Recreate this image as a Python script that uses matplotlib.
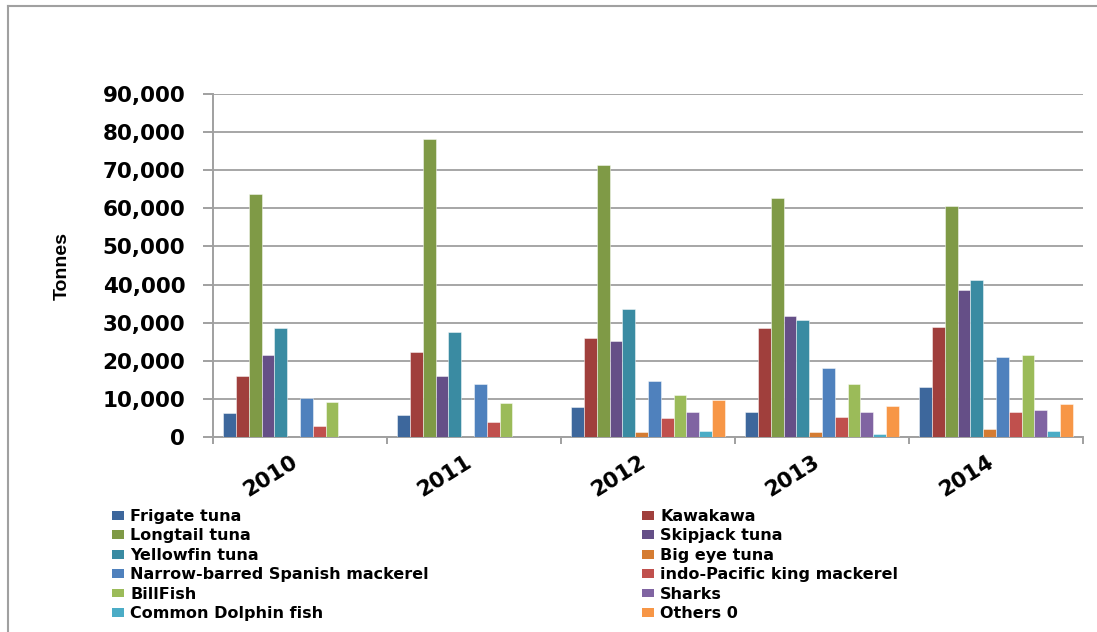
import matplotlib
matplotlib.use('Agg')
import matplotlib.pyplot as plt
import numpy as np
from matplotlib.patches import Patch
from matplotlib.lines import Line2D

years = ['2010', '2011', '2012', '2013', '2014']

series_names = ['Frigate tuna', 'Kawakawa', 'Longtail tuna', 'Skipjack tuna',
                'Yellowfin tuna', 'Big eye tuna', 'Narrow-barred Spanish mackerel',
                'indo-Pacific king mackerel', 'BillFish', 'Sharks',
                'Common Dolphin fish', 'Others 0']

frigate_tuna = [6300, 5900, 7900, 6600, 13200]
kawakawa = [16100, 22300, 26000, 28500, 28800]
longtail_tuna = [63800, 78200, 71300, 62600, 60500]
skipjack_tuna = [21400, 16100, 25200, 31700, 38700]
yellowfin_tuna = [28500, 27600, 33700, 30600, 41200]
big_eye_tuna = [0, 0, 1300, 1300, 2000]
narrow_barred = [10300, 14000, 14800, 18100, 21000]
indo_pacific = [3000, 3900, 5000, 5300, 6600]
billfish = [9100, 8800, 11100, 14000, 21400]
sharks = [0, 0, 6600, 6600, 7000]
common_dolphin = [0, 0, 1700, 900, 1600]
others = [0, 0, 9600, 8200, 8700]

series_values = [frigate_tuna, kawakawa, longtail_tuna, skipjack_tuna,
                 yellowfin_tuna, big_eye_tuna, narrow_barred, indo_pacific,
                 billfish, sharks, common_dolphin, others]

colors = ['#3D679C', '#A03F3C', '#7F9A46', '#654F87', '#3A8BA2', '#D57C32',
          '#4F81BD', '#C0504D', '#9BBB59', '#8064A2', '#4BACC6', '#F79646']

y_ticks = [0, 10000, 20000, 30000, 40000, 50000, 60000, 70000, 80000, 90000]

W, H = 1097, 632
fig = plt.figure(figsize=(W / 100, H / 100), dpi=100)
fig.patch.set_facecolor('white')

# outer frame (left and top border)
fig.add_artist(Line2D([8 / W, 8 / W], [0, 1 - 6 / H], color='#A0A0A0', lw=1.5,
                      transform=fig.transFigure))
fig.add_artist(Line2D([8 / W, 1], [1 - 6 / H, 1 - 6 / H], color='#A0A0A0', lw=1.5,
                      transform=fig.transFigure))

ax = fig.add_axes([213 / W, 1 - 437 / H, (1083 - 213) / W, (437 - 94) / H])

n_groups = len(years)
n_series = len(series_values)
bar_w = 0.0735
total = bar_w * n_series
x0 = np.arange(n_groups)
handles = []
for i, (vals, c, name) in enumerate(zip(series_values, colors, series_names)):
    xs = x0 + 0.5 - total / 2 + bar_w * (i + 0.5)
    ax.bar(xs, vals, width=bar_w, color=c, edgecolor=(1, 1, 1, 0.55),
           linewidth=0.6, zorder=3)
    handles.append(Patch(facecolor=c, edgecolor='none', label=name))

ax.set_xlim(0, n_groups)
ax.set_ylim(0, 90000)

ax.set_yticks(y_ticks)
ax.set_yticklabels([f'{v:,}' for v in y_ticks], fontsize=15.5, fontweight='bold',
                   family='DejaVu Sans')
ax.yaxis.grid(True, color='#A6A6A6', linewidth=1.4, zorder=0)
ax.tick_params(axis='y', direction='out', length=7, width=1.4, color='#A0A0A0',
               pad=13)

ax.set_xticks(np.arange(n_groups + 1))
ax.set_xticklabels([])
ax.tick_params(axis='x', direction='out', length=5, width=1.4, color='#A0A0A0')

for i, yr in enumerate(years):
    ax.annotate(yr, xy=(i + 0.5, 0), xycoords='data', xytext=(-21, -28),
                textcoords='offset points', ha='center', va='center',
                rotation=32, fontsize=15.5, fontweight='bold', family='DejaVu Sans')

for s in ['top', 'right']:
    ax.spines[s].set_visible(False)
for s in ['left', 'bottom']:
    ax.spines[s].set_color('#A0A0A0')
    ax.spines[s].set_linewidth(1.4)

fig.text(62 / W, 1 - 266 / H, 'Tonnes', rotation=90, ha='center', va='center',
         fontsize=14, fontweight='bold', family=['Liberation Sans Narrow', 'Liberation Sans'])

col1 = [handles[i] for i in range(0, 12, 2)]
col2 = [handles[i] for i in range(1, 12, 2)]
common = dict(frameon=False, loc='upper left', borderpad=0, borderaxespad=0,
              handlelength=0.75, handleheight=0.45, handletextpad=0.4,
              labelspacing=0.28,
              prop={'family': 'DejaVu Sans', 'weight': 'bold', 'size': 11.5})
leg1 = fig.legend(handles=col1, bbox_to_anchor=(112 / W, 1 - 509 / H), **common)
leg2 = fig.legend(handles=col2, bbox_to_anchor=(642 / W, 1 - 509 / H), **common)

fig.savefig('out.png', dpi=100)
